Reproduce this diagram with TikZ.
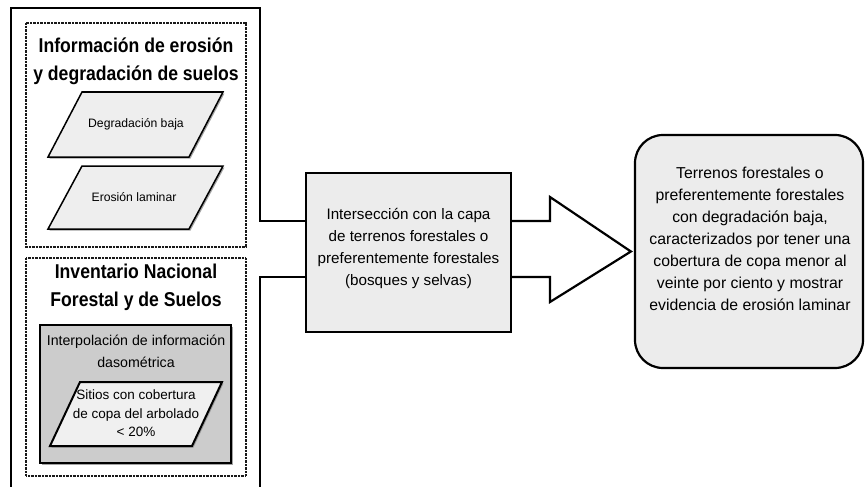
\documentclass[tikz,border=0pt]{standalone}
\usepackage{fontspec}
\setmainfont{Liberation Sans}
\newfontfamily\titlefont[FakeStretch=0.88]{Liberation Sans}
\usetikzlibrary{shadows}
\definecolor{paragray}{RGB}{238,238,238}
\definecolor{boxgray}{RGB}{204,204,204}
\definecolor{lightgray}{RGB}{236,236,236}
\begin{document}
\begin{tikzpicture}[x=1pt,y=-1pt,
  frame/.style={line width=2.2pt, draw=black, line join=miter},
  dotbox/.style={draw=black!90, line width=1.1pt, dash pattern=on 0.8pt off 0.6pt},
  para/.style={draw=black, line width=1.5pt, fill=paragray, line join=miter,
    drop shadow={shadow xshift=1.5pt, shadow yshift=-1.5pt, fill=black!45, opacity=0.8}},
  titletxt/.style={align=center, inner sep=0pt, font=\titlefont\bfseries\fontsize{20}{28}\selectfont},
  smalltxt/.style={align=center, inner sep=0pt, font=\fontsize{12.2}{15}\selectfont},
  midtxt/.style={align=center, inner sep=0pt, font=\fontsize{15.2}{22}\selectfont},
  bigtxt/.style={align=center, inner sep=0pt, font=\fontsize{15.8}{22}\selectfont}]
\useasboundingbox (0,0) rectangle (865,487);

% middle box
\node[draw=black, line width=2pt, fill=lightgray, minimum width=205pt, minimum height=159pt, inner sep=0pt] (mid) at (408.5,252.5) {};
\node[midtxt] (midt) at (408.5,248.5) {Intersección con la capa\\de terrenos forestales o\\preferentemente forestales\\(bosques y selvas)};

% right box
\node[draw=black, line width=2.2pt, fill=lightgray, rounded corners=28pt, minimum width=228pt, minimum height=233pt, inner sep=0pt] (rbox) at (749,251.5) {};
\node[bigtxt] (rtxt) at (750,238.5) {Terrenos forestales o\\preferentemente forestales\\con degradación baja,\\caracterizados por tener una\\cobertura de copa menor al\\veinte por ciento y mostrar\\evidencia de erosión laminar};

% outer frame and connectors
\coordinate (fu) at (260,221);
\coordinate (fl) at (260,277);
\draw[frame] (mid.west |- fu) -- (fu) -- (260,8) -- (11,8) -- (11,492);
\draw[frame] (mid.west |- fl) -- (fl) -- (260,492);

% block arrow
\coordinate (au) at (550,221);
\coordinate (al) at (550,277);
\coordinate (tip) at ([xshift=-3pt]rbox.west);
\draw[frame, fill=white] (mid.east |- au) -- (au) -- (550,197) -- (tip) -- (550,302) -- (al) -- (mid.east |- al);

% dotted boxes
\draw[dotbox] (26,23) rectangle (246,247);
\draw[dotbox] (26,258) rectangle (246,476);

% box 1 content
\node[titletxt] (t1) at (136,61) {Información de erosión\\y degradación de suelos};
\draw[para] (82,92) -- (223,92) -- (189,157) -- (48,157) -- cycle;
\node[smalltxt] (p1) at (136,124.5) {Degradación baja};
\draw[para] (82,166) -- (223,166) -- (189,229) -- (48,229) -- cycle;
\node[smalltxt] (p2) at (134,197.5) {Erosión laminar};

% box 2 content
\node[titletxt] (t2) at (136,287.5) {Inventario Nacional\\Forestal y de Suelos};
\draw[draw=black, line width=2pt, fill=boxgray,
  drop shadow={shadow xshift=1.5pt, shadow yshift=-1.5pt, fill=black!45, opacity=0.8}] (40,325) rectangle (231,463);
\node[align=center, inner sep=0pt, font=\fontsize{14.2}{22}\selectfont] (g1) at (136,351) {Interpolación de información\\dasométrica};
\draw[para, line width=2pt, fill=paragray!90!white] (80,382) -- (222,382) -- (192,446) -- (50,446) -- cycle;
\node[align=center, inner sep=0pt, font=\fontsize{13.5}{18.5}\selectfont] (p3) at (136,413.5) {Sitios con cobertura\\de copa del arbolado\\< 20\%};
\end{tikzpicture}
\end{document}
